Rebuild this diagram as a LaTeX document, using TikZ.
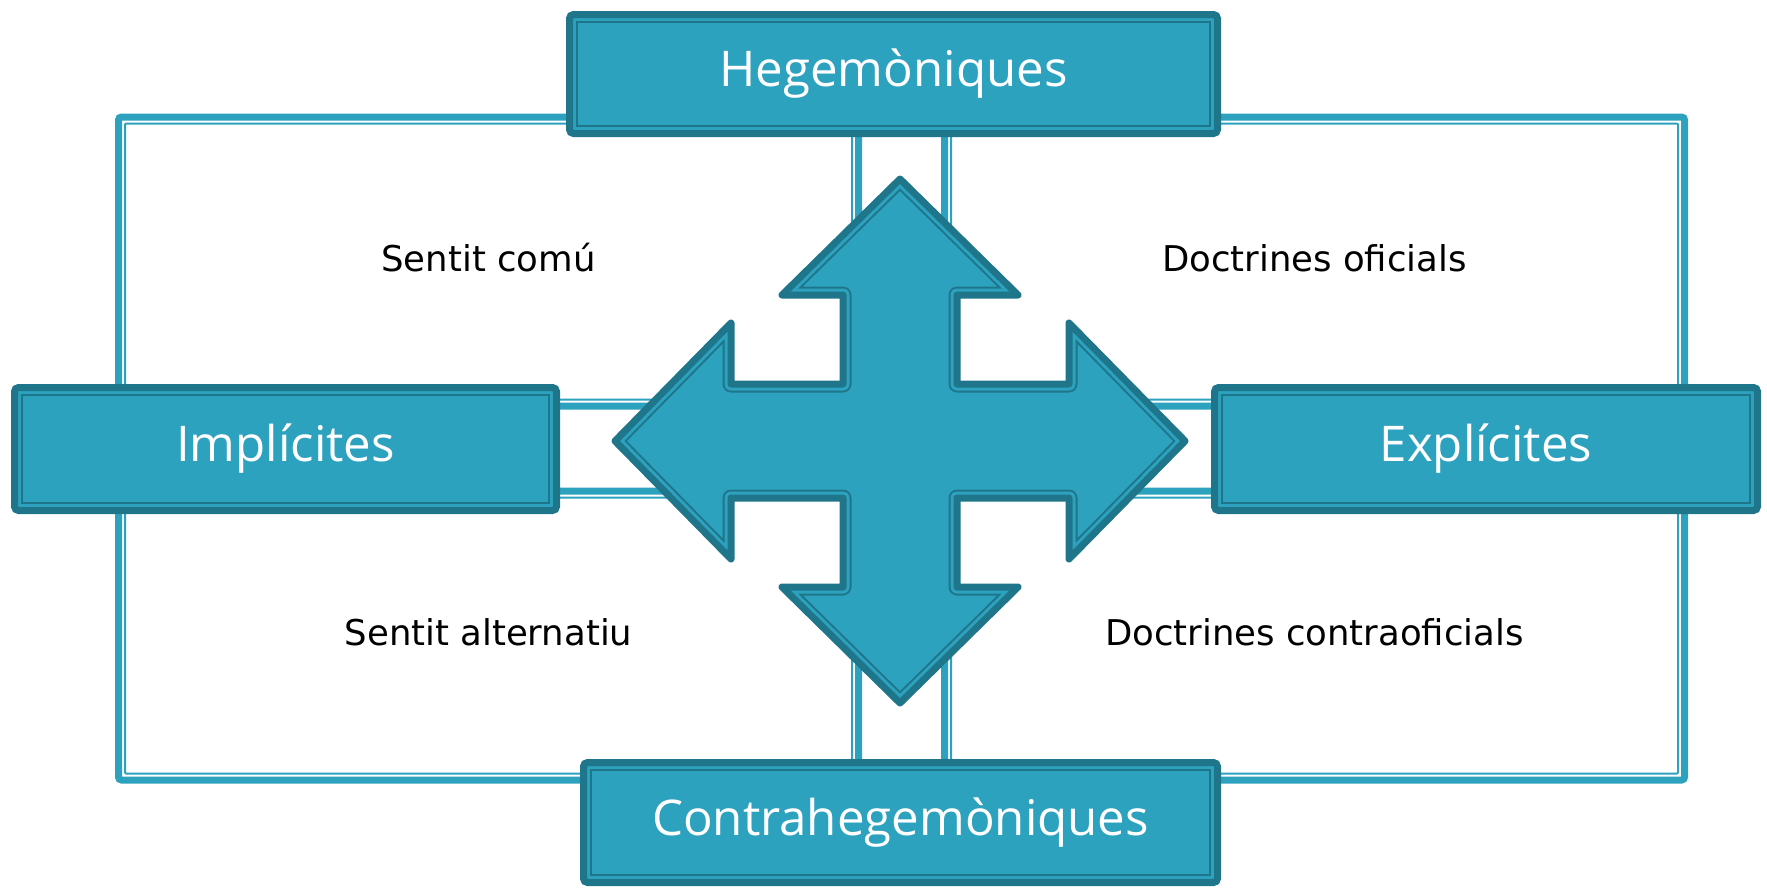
\documentclass[tikz,border=0pt]{standalone}
\usepackage{fontspec}
\setmainfont{DejaVu Sans}
\newfontfamily\boxfont{Open Sans}
\usetikzlibrary{calc,positioning}
\definecolor{tealfill}{RGB}{44,162,191}
\definecolor{tealline}{RGB}{31,117,138}
\tikzset{
    quadrant/.style ={rectangle, draw=tealfill, line width=0.14cm, rounded corners=0.06cm,
        minimum width=14.8cm, minimum height=5.78cm, text=black, text depth=0.15cm,
        font=\fontsize{20.2}{24}\selectfont},
    quadinner/.style={draw=tealfill, line width=0.04cm, rounded corners=0.02cm},
    category/.style ={rectangle, draw=tealline, fill=tealfill, line width=0.14cm,
        rounded corners=0.08cm, inner sep=0pt, text=white,
        font=\boxfont\fontsize{28}{32}\selectfont},
    catinner/.style ={draw=tealline, line width=0.04cm},
    crossline/.style={line join=round}
}
% four-way arrow, centred on (0,0)
\newcommand{\crossshape}{(0,5.24) -- (2.36,2.92) -- (1.14,2.92) -- (1.14,1.14)
    -- (3.38,1.14) -- (3.38,2.36) -- (5.7,0) -- (3.38,-2.36) -- (3.38,-1.14)
    -- (1.14,-1.14) -- (1.14,-2.92) -- (2.36,-2.92) -- (0,-5.24) -- (-2.36,-2.92)
    -- (-1.14,-2.92) -- (-1.14,-1.14) -- (-3.38,-1.14) -- (-3.38,-2.36) -- (-5.7,0)
    -- (-3.38,2.36) -- (-3.38,1.14) -- (-1.14,1.14) -- (-1.14,2.92) -- (-2.36,2.92) -- cycle}

\begin{document}
\begin{tikzpicture}
    \useasboundingbox (0,0) rectangle (35.34,-17.74);

    % quadrants
    \node[quadrant] (q1) at (9.77,-5.23) {Sentit comú};
    \node[quadrant] (q2) at (26.29,-5.23) {Doctrines oficials};
    \node[quadrant] (q3) at (9.77,-12.71) {Sentit alternatiu};
    \node[quadrant] (q4) at (26.29,-12.71) {Doctrines contraoficials};
    \foreach \q in {q1,q2,q3,q4}
        \draw[quadinner] ($(\q.south west)+(0.2,0.2)$) rectangle ($(\q.north east)-(0.2,0.2)$);

    % arrow
    \begin{scope}[shift={(18,-8.82)}]
        \fill[tealfill] \crossshape;
        \begin{scope}
            \clip \crossshape;
            \draw[crossline, tealline, line width=0.34cm] \crossshape;
            \draw[crossline, tealfill, line width=0.26cm] \crossshape;
        \end{scope}
        \draw[crossline, tealline, line width=0.14cm] \crossshape;
    \end{scope}

    % categories
    \node[category, minimum width=12.96cm, minimum height=2.38cm] (h) at (17.87,-1.48) {Hegemòniques};
    \node[category, minimum width=10.84cm, minimum height=2.46cm] (i) at (5.71,-8.98) {Implícites};
    \node[category, minimum width=10.86cm, minimum height=2.46cm] (e) at (29.72,-8.98) {Explícites};
    \node[category, minimum width=12.68cm, minimum height=2.40cm] (c) at (18.01,-16.45) {Contrahegemòniques};
    \foreach \b in {h,i,e,c}
        \draw[catinner] ($(\b.south west)+(0.22,0.22)$) rectangle ($(\b.north east)-(0.22,0.22)$);

\end{tikzpicture}
\end{document}
